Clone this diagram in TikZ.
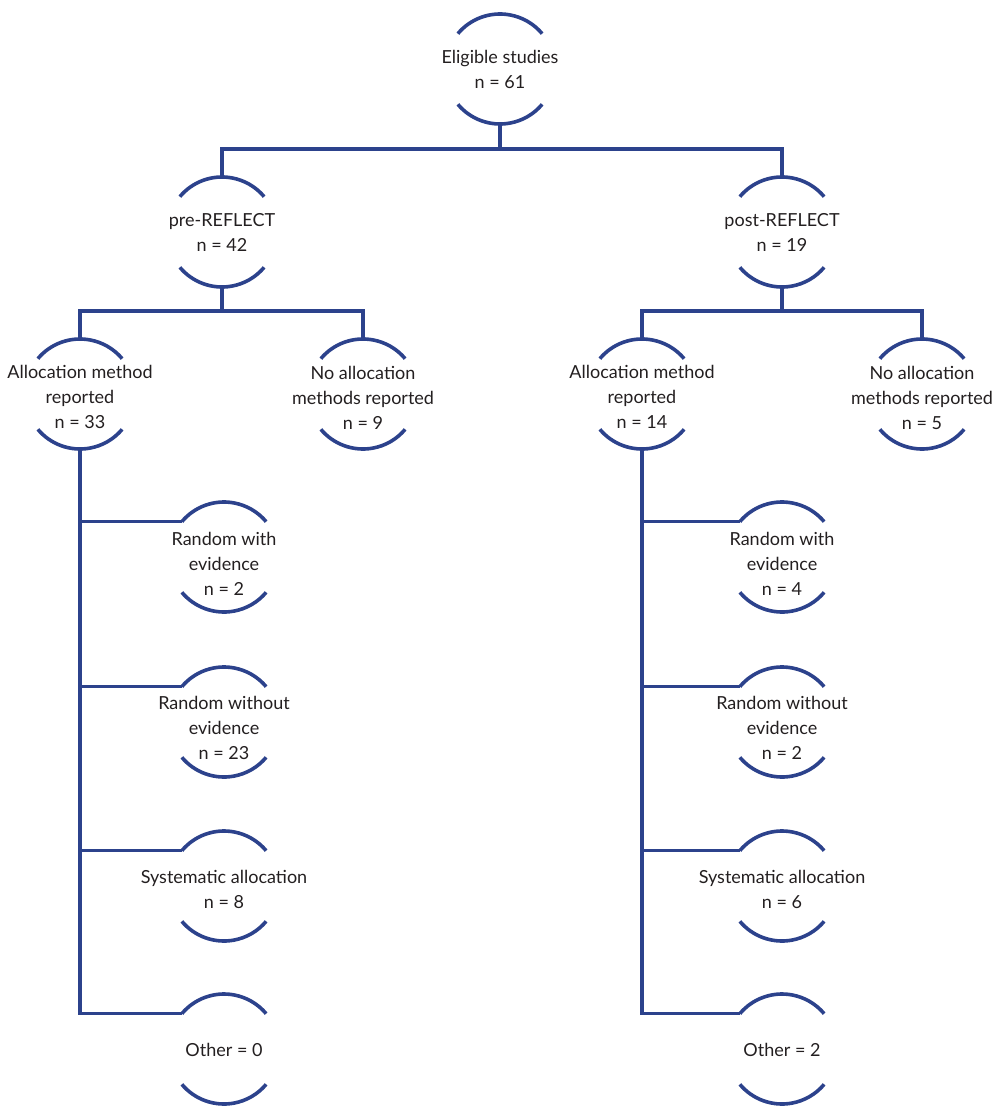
\documentclass[tikz,border=0pt]{standalone}
\usepackage{fontspec}
\setmainfont{Lato}
\definecolor{flowblue}{RGB}{44,66,140}
\definecolor{txtcol}{RGB}{35,31,32}
\begin{document}
\begin{tikzpicture}[x=1pt,y=1pt,
  nd/.style={circle, draw=none, minimum size=110pt, inner sep=0pt, outer sep=0pt},
  txt/.style={align=center, text=txtcol, font=\fontsize{18}{25}\selectfont, inner sep=0pt},
  ln/.style={draw=flowblue, line width=3.6pt},
  arcln/.style={draw=flowblue, line width=3.6pt}]
\useasboundingbox (0,0) rectangle (1000,-1113);
% top
\node[nd, label={[txt]center:Eligible studies\\n = 61}] (E) at (500,-69) {};
\node[nd, label={[txt]center:pre-REFLECT\\n = 42}] (PR) at (222,-232) {};
\node[nd, label={[txt]center:post-REFLECT\\n = 19}] (PO) at (782,-232) {};
% level 2
\node[nd, label={[txt, yshift=-3pt]center:Allocation method\\reported\\n = 33}] (A1) at (80,-394) {};
\node[nd, label={[txt, yshift=-4pt]center:No allocation\\methods reported\\n = 9}] (N1) at (363,-394) {};
\node[nd, label={[txt, yshift=-3pt]center:Allocation method\\reported\\n = 14}] (A2) at (642,-394) {};
\node[nd, label={[txt, yshift=-4pt]center:No allocation\\methods reported\\n = 5}] (N2) at (922,-394) {};
% level 3 left
\node[nd, label={[txt, yshift=-7pt]center:Random with\\evidence\\n = 2}] (R1) at (224,-557) {};
\node[nd, label={[txt, yshift=-6pt]center:Random without\\evidence\\n = 23}] (W1) at (224,-722) {};
\node[nd, label={[txt, yshift=-3pt]center:Systematic allocation\\n = 8}] (S1) at (224,-886) {};
\node[nd, label={[txt, yshift=-1pt]center:Other = 0}] (O1) at (224,-1049) {};
% level 3 right
\node[nd, label={[txt, yshift=-7pt]center:Random with\\evidence\\n = 4}] (R2) at (782,-557) {};
\node[nd, label={[txt, yshift=-6pt]center:Random without\\evidence\\n = 2}] (W2) at (782,-722) {};
\node[nd, label={[txt, yshift=-3pt]center:Systematic allocation\\n = 6}] (S2) at (782,-886) {};
\node[nd, label={[txt, yshift=-1pt]center:Other = 2}] (O2) at (782,-1049) {};
% arcs
\foreach \n in {E,PR,PO,A1,N1,A2,N2,R1,W1,S1,O1,R2,W2,S2,O2}{
  \draw[arcln] (\n.140) arc (140:40:55pt);
  \draw[arcln] (\n.-140) arc (-140:-40:55pt);
}
% connectors top
\draw[ln] (E.south) -- ++(0,-25) coordinate (t1);
\draw[ln] (PR.north) -- (PR.north |- t1) -- (PO.north |- t1) -- (PO.north);
\draw[ln] (PR.south) -- ++(0,-24) coordinate (t2);
\draw[ln] (A1.north) -- (A1.north |- t2) -- (N1.north |- t2) -- (N1.north);
\draw[ln] (PO.south) -- ++(0,-24) coordinate (t3);
\draw[ln] (A2.north) -- (A2.north |- t3) -- (N2.north |- t3) -- (N2.north);
% left tree
\draw[ln] (A1.south) -- (A1.south |- O1.140) -- (O1.140);
\draw[ln] (A1.south |- R1.140) -- (R1.140);
\draw[ln] (A1.south |- W1.140) -- (W1.140);
\draw[ln] (A1.south |- S1.140) -- (S1.140);
% right tree
\draw[ln] (A2.south) -- (A2.south |- O2.140) -- (O2.140);
\draw[ln] (A2.south |- R2.140) -- (R2.140);
\draw[ln] (A2.south |- W2.140) -- (W2.140);
\draw[ln] (A2.south |- S2.140) -- (S2.140);
\end{tikzpicture}
\end{document}
